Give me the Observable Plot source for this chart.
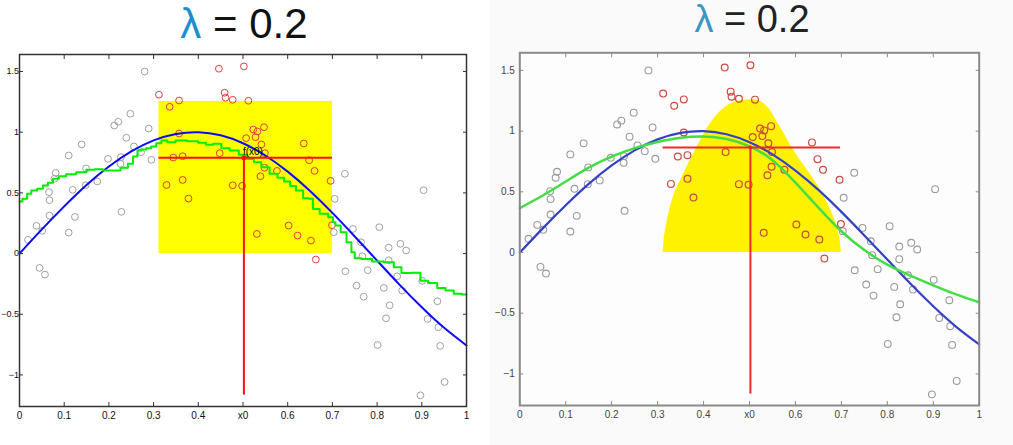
<!DOCTYPE html>
<html><head><meta charset="utf-8">
<script src="https://cdn.jsdelivr.net/npm/d3@7"></script>
<script src="https://cdn.jsdelivr.net/npm/@observablehq/plot@0.6"></script>
<style>
html,body{margin:0;padding:0;background:#fff}
body{width:1013px;height:445px;overflow:hidden;position:relative;font-family:"Liberation Sans",Arial,sans-serif}
#left{position:absolute;left:0;top:0;width:480px;height:445px}
#right{position:absolute;left:490px;top:0;width:523px;height:445px;background:#fafafa}
.title{position:absolute;white-space:nowrap;color:#111;line-height:1;transform:translateX(-50%)}
.title .lam{color:#1a8fd0}
#t1{left:244px;top:3px;font-size:42px}
#t2{left:752px;top:0px;font-size:38px;color:#222}
#t2 .lam{color:#3a97c4}
</style>
</head><body>
<div id="left"></div>
<div id="right"></div>
<div class="title" id="t1"><span class="lam">λ</span> = 0.2</div>
<div class="title" id="t2"><span class="lam">λ</span> = 0.2</div>
<script>
// ---- axis ticks ----
const xTicks = [0, 0.1, 0.2, 0.3, 0.4, 0.5, 0.6, 0.7, 0.8, 0.9, 1];
const xTickLabels = ["0", "0.1", "0.2", "0.3", "0.4", "x0", "0.6", "0.7", "0.8", "0.9", "1"];
const yTicks = [-1, -0.5, 0, 0.5, 1, 1.5];
const yTickLabels = ["\u22121", "\u22120.5", "0", "0.5", "1", "1.5"];

// ---- scatter points (same sample in both panels) ----
const ptX = [0.280,0.248,0.212,0.221,0.289,0.239,0.139,0.256,0.110,0.198,0.227,0.226,0.272,0.295,0.149,0.081,0.078,0.119,0.148,0.174,0.066,0.067,0.067,0.124,0.228,0.038,0.051,0.110,0.019,0.045,0.057,
  0.312,0.336,0.357,0.329,0.446,0.502,0.459,0.461,0.477,0.512,0.357,0.523,0.532,0.547,0.507,0.528,0.541,0.448,0.549,0.636,0.344,0.365,0.548,0.576,0.539,0.365,0.477,0.498,0.378,0.602,0.531,0.622,0.652,0.648,0.660,0.696,0.699,0.663,
  0.728,0.904,0.705,0.703,0.746,0.805,0.764,0.767,0.826,0.852,0.865,0.826,0.729,0.779,0.845,0.754,0.815,0.856,0.901,0.770,0.828,0.935,0.820,0.913,0.937,0.941,0.801,0.951,0.897];
const ptY = [1.500,1.152,1.055,1.086,1.030,0.954,0.899,0.882,0.808,0.780,0.794,0.739,0.835,0.772,0.701,0.665,0.616,0.525,0.563,0.594,0.506,0.440,0.313,0.302,0.344,0.228,0.187,0.173,0.113,-0.118,-0.173,
  1.309,1.209,1.261,0.565,1.523,1.542,1.325,1.284,1.267,1.259,0.989,1.022,1.006,1.041,0.951,0.959,0.899,0.827,0.827,0.907,0.791,0.802,0.707,0.681,0.637,0.607,0.563,0.558,0.453,0.231,0.162,0.148,0.107,0.769,0.681,0.599,0.234,-0.049,
  0.657,0.522,0.451,0.176,0.203,0.217,0.093,-0.022,0.049,0.080,0.025,-0.055,-0.146,-0.137,-0.187,-0.264,-0.283,-0.305,-0.225,-0.355,-0.426,-0.393,-0.533,-0.539,-0.607,-0.761,-0.753,-1.058,-1.168];

// ---- true function (blue) ----
const blueX = [0,0.05,0.1,0.15,0.2,0.25,0.3,0.35,0.4,0.45,0.5,0.55,0.6,0.65,0.7,0.75,0.8,0.85,0.9,0.95,1];
const blueY = [0,0.199,0.389,0.565,0.717,0.841,0.932,0.985,1.0,0.974,0.909,0.808,0.675,0.516,0.335,0.141,-0.058,-0.256,-0.443,-0.612,-0.757];

// ---- left panel: nearest-neighbour average (green staircase) ----
const greenLX = [0,0.013,0.021,0.032,0.047,0.058,0.069,0.081,0.095,0.114,0.140,0.159,0.177,0.196,0.215,0.237,0.248,0.260,0.268,0.278,0.289,0.300,0.312,0.323,0.338,0.360,0.390,0.410,0.424,0.442,0.461,0.479,0.502,0.517,0.532,0.550,0.569,0.585,0.599,0.612,0.625,0.644,0.651,0.662,0.681,0.700,0.703,0.711,0.726,0.737,0.748,0.752,0.778,0.800,0.830,0.845,0.864,0.893,0.901,0.927,0.942,0.964,0.979,1.0];
const greenLY = [0.429,0.451,0.492,0.519,0.533,0.561,0.583,0.616,0.637,0.654,0.670,0.690,0.695,0.684,0.684,0.707,0.739,0.800,0.849,0.857,0.868,0.882,0.909,0.932,0.918,0.932,0.926,0.912,0.896,0.904,0.868,0.849,0.814,0.780,0.753,0.711,0.657,0.625,0.594,0.556,0.519,0.456,0.451,0.368,0.327,0.299,0.258,0.231,0.176,0.093,0.011,-0.039,-0.044,-0.066,-0.072,-0.113,-0.160,-0.159,-0.223,-0.242,-0.283,-0.305,-0.332,-0.338];

// ---- right panel: kernel-weighted average (green smooth) ----
const greenRX = [0,0.05,0.1,0.15,0.2,0.25,0.3,0.35,0.4,0.45,0.5,0.55,0.6,0.65,0.7,0.75,0.8,0.85,0.9,0.95,1];
const greenRY = [0.366,0.47,0.585,0.70,0.79,0.86,0.91,0.945,0.955,0.935,0.875,0.76,0.575,0.37,0.175,0.02,-0.10,-0.19,-0.27,-0.345,-0.41];

// ---- windows / kernel ----
const x0 = 0.502;
const winLo = 0.312, winHi = 0.700;
const boxTop = 1.253;          // left: box kernel height
const fx0Left = 0.789, fx0Right = 0.864;
const stemBottom = -1.166;
const kernelX = [0.312,0.314,0.318,0.328,0.357,0.386,0.415,0.444,0.480,0.509,0.539,0.567,0.596,0.626,0.655,0.680,0.692,0.698,0.700];
const kernelY = [0,0.10,0.20,0.374,0.649,0.869,1.062,1.186,1.250,1.258,1.199,1.034,0.842,0.677,0.512,0.319,0.19,0.08,0];

const pts = ptX.map((x, i) => ({x, y: ptY[i]}));
const inWin = d => d.x >= 0.31 && d.x <= 0.7;
const blue = blueX.map((x, i) => ({x, y: blueY[i]}));
const greenL = greenLX.map((x, i) => ({x, y: greenLY[i]}));
const greenR = greenRX.map((x, i) => ({x, y: greenRY[i]}));
const kernel = kernelX.map((x, i) => ({x, y: kernelY[i]}));

function axes(col, pad, yFont) {
  return [
    Plot.axisX({anchor: "bottom", ticks: xTicks, tickSize: -4, tickPadding: 9, tickFormat: (d) => xTickLabels[xTicks.indexOf(d)], label: null, stroke: col.frame, fill: col.text}),
    Plot.axisX({anchor: "top", ticks: xTicks, tickSize: -4, tickFormat: () => "", label: null, stroke: col.frame}),
    Plot.axisY({anchor: "left", ticks: yTicks, tickSize: -4, tickPadding: pad, fontSize: yFont, tickFormat: d => yTickLabels[yTicks.indexOf(d)], label: null, stroke: col.frame, fill: col.text}),
    Plot.axisY({anchor: "right", ticks: yTicks, tickSize: -4, tickFormat: () => "", label: null, stroke: col.frame}),
    Plot.frame({stroke: col.frame, strokeWidth: col.fw})
  ];
}

const left = Plot.plot({
  width: 480, height: 445,
  marginLeft: 19, marginRight: 14, marginTop: 54, marginBottom: 39,
  x: {domain: [0, 1]}, y: {domain: [-1.26, 1.64]},
  style: {background: "transparent", fontFamily: "Liberation Sans, Arial, sans-serif", fontSize: "10px", color: "#111"},
  marks: [
    Plot.rectY([boxTop], {x1: winLo, x2: winHi, y1: 0, y2: d => d, fill: "#ffff00"}),
    Plot.dot(pts.filter(d => !inWin(d)), {x: "x", y: "y", r: 3.4, stroke: "#a0a0a0", strokeWidth: 1}),
    Plot.dot(pts.filter(inWin), {x: "x", y: "y", r: 3.4, stroke: "#e03c3c", strokeWidth: 1}),
    Plot.line(blue, {x: "x", y: "y", stroke: "#0a0aff", strokeWidth: 2, curve: "natural"}),
    Plot.line(greenL, {x: "x", y: "y", stroke: "#00ee00", strokeWidth: 2, curve: "step"}),
    Plot.ruleY([fx0Left], {x1: winLo, x2: winHi, stroke: "#ff1010", strokeWidth: 2}),
    Plot.ruleX([x0], {y1: stemBottom, y2: fx0Left, stroke: "#ff1010", strokeWidth: 2}),
    Plot.dot([fx0Left], {x: x0, y: d => d, r: 2.5, fill: "#ff1010"}),
    Plot.text(["f(x0)"], {x: x0, y: fx0Left, text: d => d, textAnchor: "start", lineAnchor: "bottom", dy: -3, dx: -1, fontSize: 10, fill: "#000"}),
    ...axes({frame: "#333", text: "#111", fw: 1.5}, 4.5, 9)
  ]
});
document.getElementById("left").appendChild(left);

const right = Plot.plot({
  width: 523, height: 445,
  marginLeft: 29.3, marginRight: 34.3, marginTop: 52.3, marginBottom: 40,
  x: {domain: [0, 1]}, y: {domain: [-1.26, 1.645]},
  style: {background: "transparent", fontFamily: "Liberation Sans, Arial, sans-serif", fontSize: "10px", color: "#444"},
  marks: [
    Plot.frame({fill: "#fdfdfd"}),
    Plot.areaY(kernel, {x: "x", y: "y", fill: "#fff200", curve: "monotone-x"}),
    Plot.dot(pts.filter(d => !inWin(d)), {x: "x", y: "y", r: 3.4, stroke: "#9a9a9a", strokeWidth: 1.1}),
    Plot.dot(pts.filter(inWin), {x: "x", y: "y", r: 3.4, stroke: "#cc4a40", strokeWidth: 1.2}),
    Plot.line(blue, {x: "x", y: "y", stroke: "#3340c8", strokeWidth: 2.2, curve: "natural"}),
    Plot.line(greenR, {x: "x", y: "y", stroke: "#44dd44", strokeWidth: 2.5, curve: "natural"}),
    Plot.ruleY([fx0Right], {x1: winLo, x2: winHi - 0.002, stroke: "#ee2a2a", strokeWidth: 2}),
    Plot.ruleX([x0], {y1: stemBottom, y2: fx0Right, stroke: "#ee2a2a", strokeWidth: 2}),
    Plot.dot([fx0Right], {x: x0, y: d => d, r: 2, fill: "#ee2a2a"}),
    ...axes({frame: "#8a8a8a", text: "#444", fw: 2}, 9, 10)
  ]
});
document.getElementById("right").appendChild(right);
</script>
</body></html>
